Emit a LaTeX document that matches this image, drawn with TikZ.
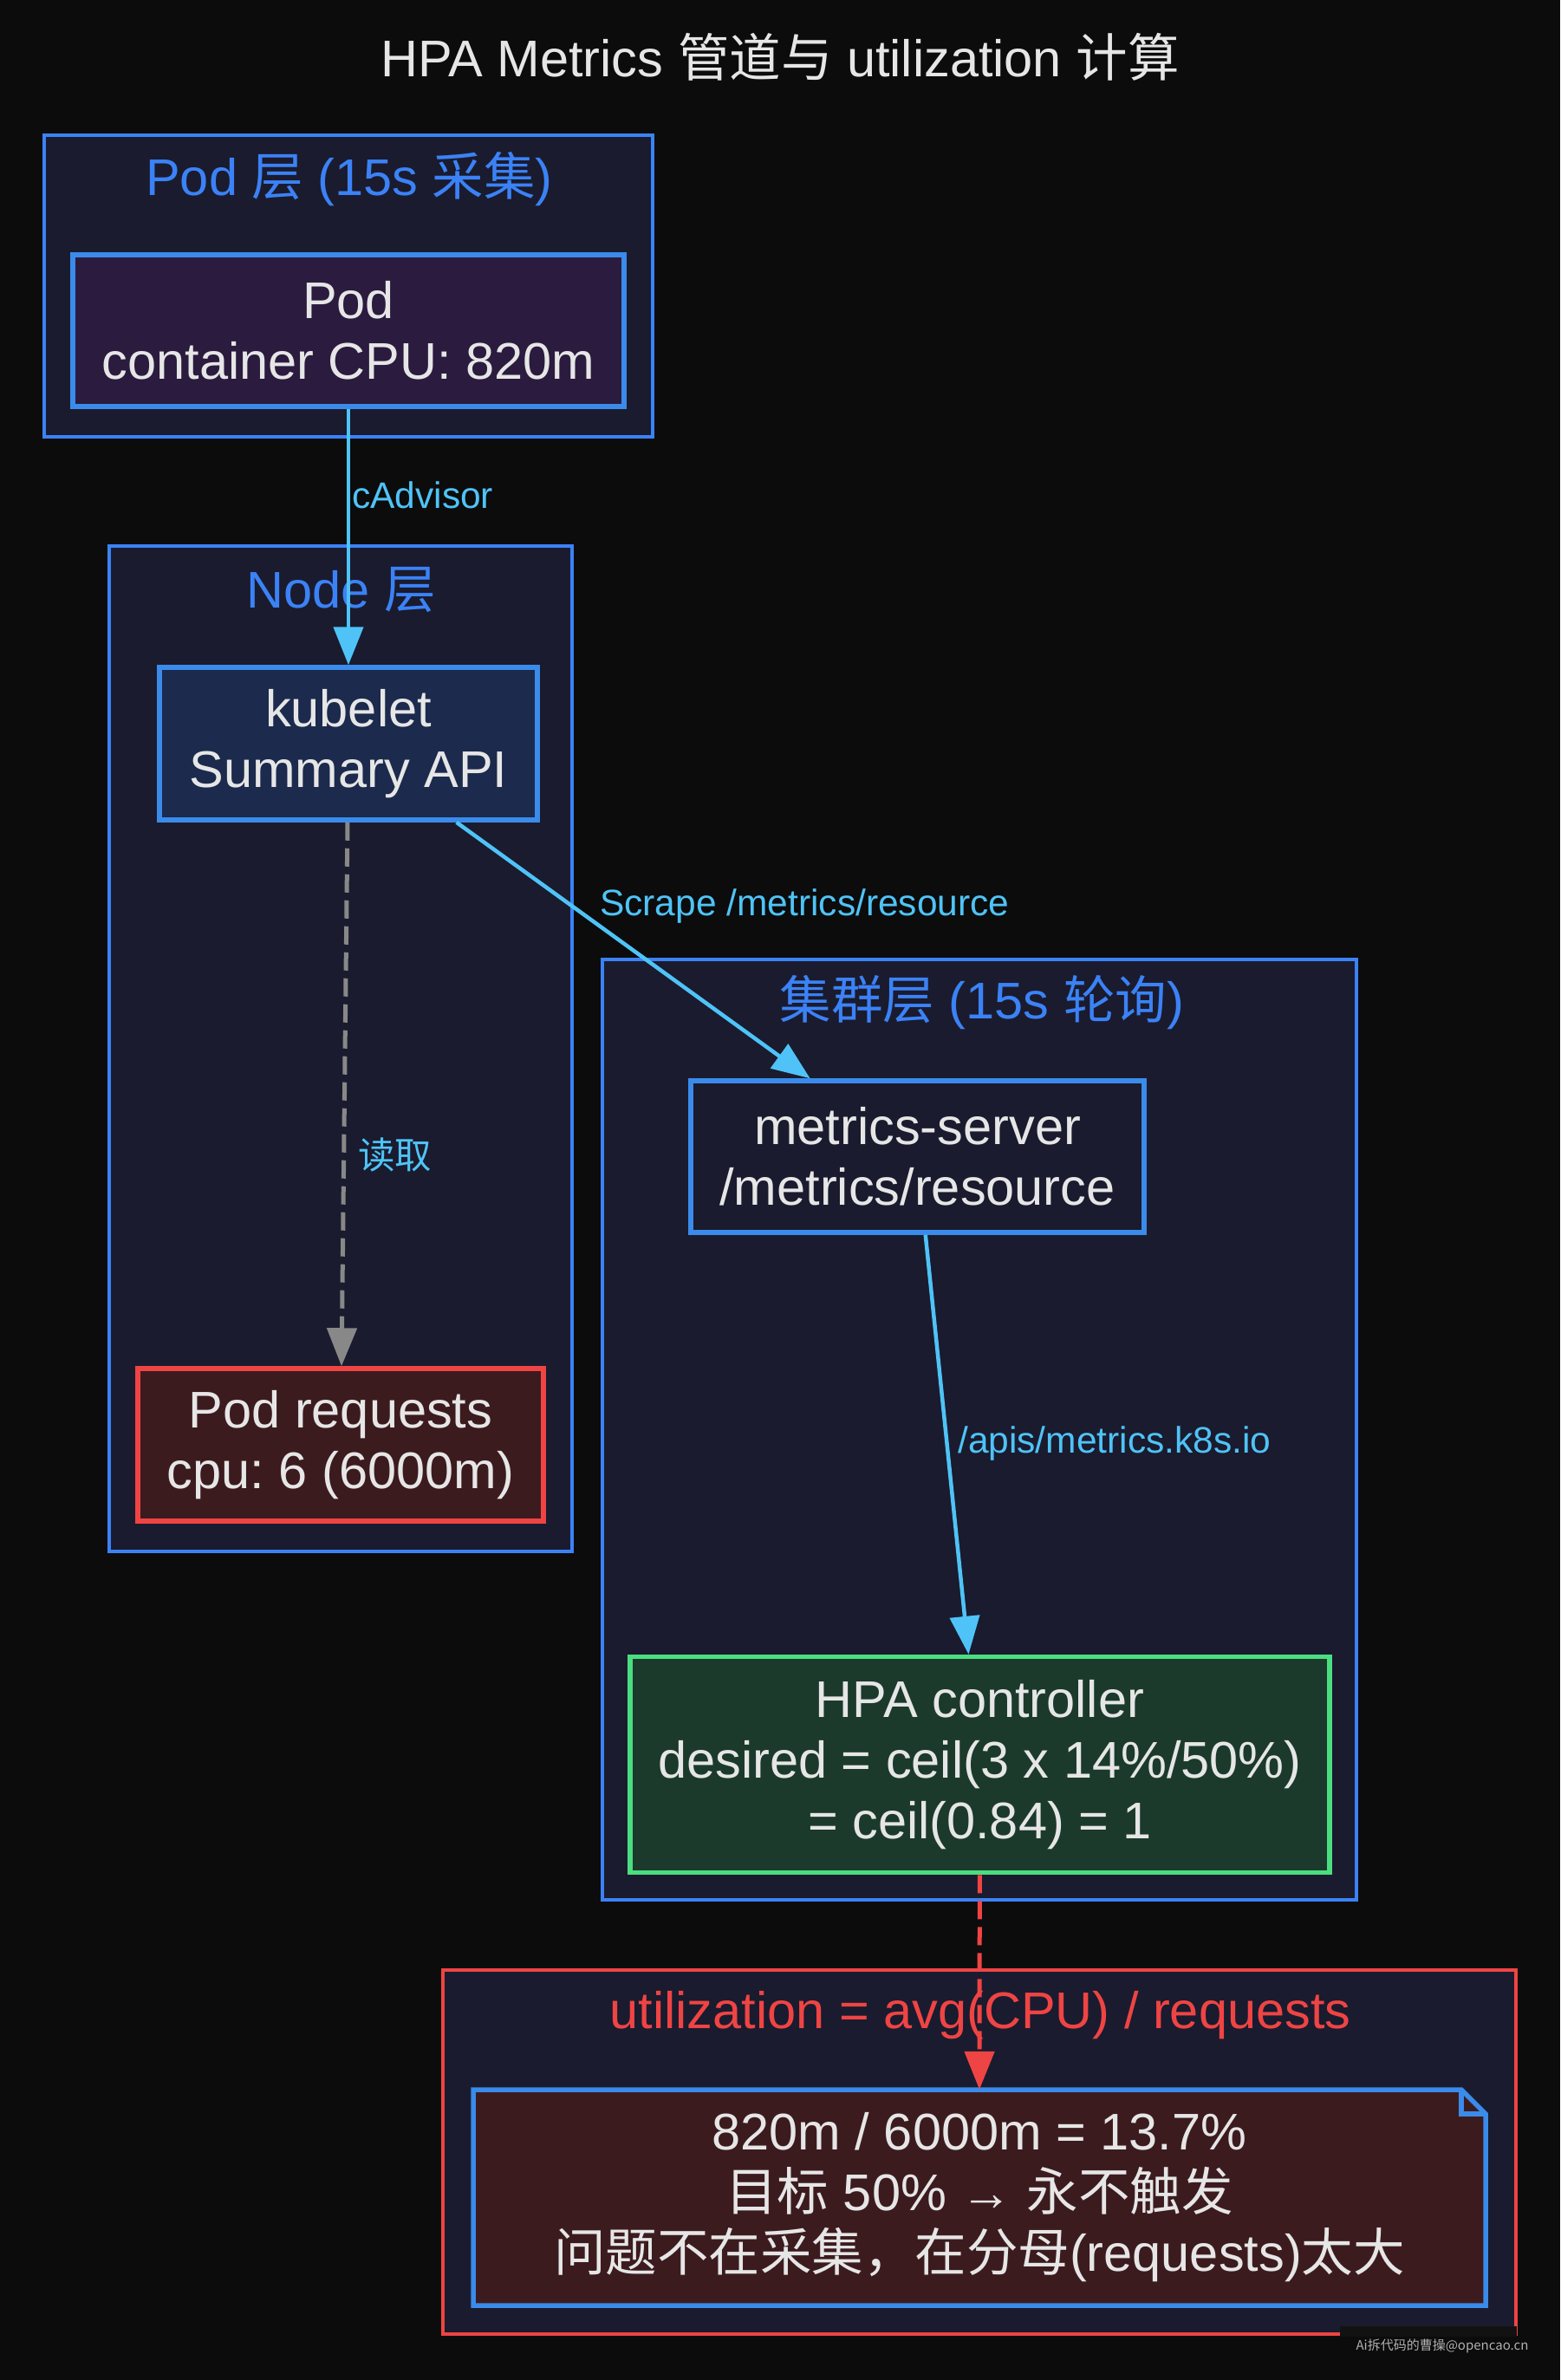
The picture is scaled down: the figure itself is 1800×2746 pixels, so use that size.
\documentclass[tikz,border=0pt]{standalone}
\usepackage{fontspec}
\setmainfont{Liberation Sans}
\newfontfamily\cjk{Noto Sans CJK SC}
\usetikzlibrary{arrows.meta}
\frenchspacing
\definecolor{bg}{HTML}{0C0C0C}
\definecolor{clfill}{HTML}{1A1B2E}
\definecolor{clblue}{HTML}{3B82F6}
\definecolor{nblue}{HTML}{3A8BEA}
\definecolor{txt}{HTML}{E6E6E6}
\definecolor{podfill}{HTML}{2B1B3F}
\definecolor{kubfill}{HTML}{1B2A4D}
\definecolor{redfill}{HTML}{3C1B1F}
\definecolor{redline}{HTML}{EF4444}
\definecolor{greenfill}{HTML}{1B3A2C}
\definecolor{greenline}{HTML}{4ADE80}
\definecolor{cyanline}{HTML}{4FC3F7}
\definecolor{grayline}{HTML}{888888}
\definecolor{wmtxt}{HTML}{B0B0B0}
\definecolor{wmbg}{HTML}{121212}
\begin{document}
\begin{tikzpicture}[x=1pt,y=-1pt,
  bigfont/.style={font=\fontsize{59.5}{70}\selectfont},
  cluster/.style={draw=clblue, line width=4pt, fill=clfill},
  cllabel/.style={bigfont, text=clblue, inner sep=0pt},
  box/.style={draw=nblue, line width=5.5pt, text=txt, align=center, inner sep=0pt, bigfont},
  tipstyle/.style={-{Triangle[length=44pt,width=34pt]}},
  flow/.style={draw=cyanline, line width=4.5pt, tipstyle},
  dashflow/.style={line width=5pt, dash pattern=on 21pt off 9pt, tipstyle},
  elabel/.style={font=\fontsize{42.5}{50}\selectfont, text=cyanline, inner sep=0pt, anchor=west}
]
\useasboundingbox (0,0) rectangle (1800,2746);
\fill[bg] (0,0) rectangle (1800,2746);

% title
\node[bigfont, text=txt, inner sep=0pt] (title) at (900,66) {HPA Metrics {\cjk 管道与} utilization {\cjk 计算}};

% clusters
\draw[cluster] (51,156) rectangle (753,504);
\node[cllabel] (podlayerlabel) at (403,207) {Pod {\cjk 层} (15s {\cjk 采集})};

\draw[cluster] (126,630) rectangle (660,1790);
\node[cllabel] (nodelayerlabel) at (394,681) {Node {\cjk 层}};

\draw[cluster] (695,1107) rectangle (1565,2192);
\node[cllabel] (clusterlabel) at (1133,1157) {{\cjk 集群层} (15s {\cjk 轮询})};

\draw[cluster, draw=redline] (511,2273) rectangle (1749,2693);
\node[cllabel, text=redline] (utillabel) at (1131,2325) {utilization = avg(CPU) / requests};

% nodes
\node[box, fill=podfill, minimum width=636pt, minimum height=175pt] (pod) at (402,381.5) {Pod\\container CPU: 820m};
\node[box, fill=kubfill, minimum width=436pt, minimum height=176pt] (kubelet) at (402,858) {kubelet\\Summary API};
\node[box, draw=redline, fill=redfill, minimum width=468pt, minimum height=176pt] (podreq) at (393,1667) {Pod requests\\cpu: 6 (6000m)};
\node[box, fill=clfill, minimum width=523pt, minimum height=175pt] (ms) at (1058.5,1334.5) {metrics-server\\/metrics/resource};
\node[box, draw=greenline, fill=greenfill, minimum width=807pt, minimum height=249pt] (hpa) at (1130.5,2036) {HPA controller\\desired = ceil(3 x 14\%/50\%)\\= ceil(0.84) = 1};

% note (folded corner)
\draw[nblue, line width=5.5pt, fill=redfill, line join=miter] (546,2411) -- (1686,2411) -- (1714,2439) -- (1714,2660) -- (546,2660) -- cycle;
\draw[nblue, line width=5.5pt] (1686,2411) -- (1686,2439) -- (1714,2439);
\node[text=txt, align=center, inner sep=0pt, bigfont, minimum width=1168pt, minimum height=249pt] (note) at (1130,2535.5) {820m / 6000m = 13.7\%\\{\cjk 目标} 50\% → {\cjk 永不触发}\\{\cjk 问题不在采集，在分母}(requests){\cjk 太大}};

% edges
\draw[flow] (pod) -- (kubelet);
\node[elabel] (l1) at (406,571) {cAdvisor};

\draw[dashflow, draw=grayline] (kubelet) -- (podreq);
\node[elabel] (l2) at (413,1332) {\cjk 读取};

\draw[flow] (kubelet) -- (ms);
\node[elabel] (l3) at (692,1045) {Scrape /metrics/resource};

\draw[flow] (ms) -- (hpa);
\node[elabel] (l4) at (1105,1665) {/apis/metrics.k8s.io};

\draw[dashflow, draw=redline] (hpa) -- (note.north);

% watermark
\fill[wmbg] (1546,2684) rectangle (1750,2696);
\node[font={\cjk\fontsize{15}{18}\selectfont}, text=wmtxt, inner sep=0pt] (wm) at (1664,2707) {Ai拆代码的曹操@opencao.cn};
\end{tikzpicture}
\end{document}
